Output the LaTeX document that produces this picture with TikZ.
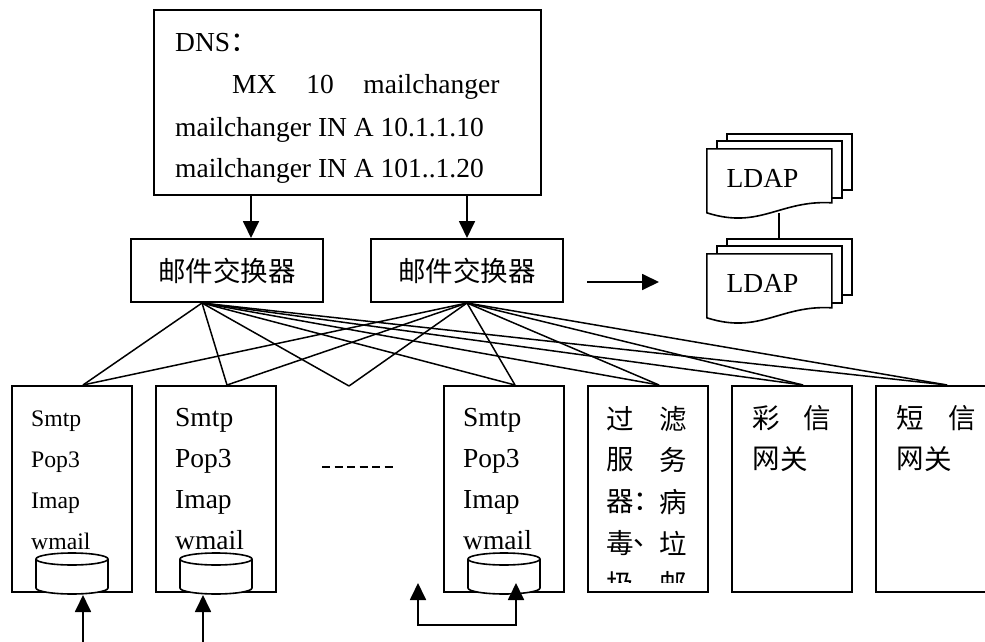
\documentclass[tikz,border=0pt]{standalone}
\usepackage{fontspec}
\setmainfont{Liberation Serif}
\newfontfamily\cjk{Noto Sans CJK SC}
\usetikzlibrary{arrows.meta}

% stack of LDAP pages, drawn from the front page's north west corner
\newcommand{\ldapstack}[1]{%
  \begin{scope}[shift={(#1.north west)}, line width=1.6pt]
    \draw[fill=white] (0,0) -- (125,0) -- (125,54) .. controls (73,51) and (53,81) .. (0,64) -- cycle;
    \draw (10,0) -- (10,-8) -- (135,-8) -- (135,49) -- (125,49);
    \draw (20,-8) -- (20,-15) -- (145,-15) -- (145,41) -- (135,41);
  \end{scope}}

% mail store cylinder, #1 is the centre of its top
\newcommand{\mailstore}[1]{%
  \begin{scope}[shift={(#1)}, line width=1.6pt]
    \draw[fill=white] (-36,0) -- (-36,29) arc[start angle=180, end angle=360, x radius=36pt, y radius=6pt]
      -- (36,0) arc[start angle=0, end angle=180, x radius=36pt, y radius=6pt] -- cycle;
    \draw (-36,0) arc[start angle=180, end angle=360, x radius=36pt, y radius=6pt];
  \end{scope}}

\begin{document}
\begin{tikzpicture}[x=1pt, y=-1pt,
    box/.style={draw, line width=2pt, inner sep=0pt},
    link/.style={line width=1.5pt},
    arr/.style={line width=1.8pt, -{Triangle[length=17pt,width=16pt]}},
    txt/.style={font=\fontsize{27.5}{33}\selectfont, inner sep=0pt, anchor=base west},
    smalltxt/.style={font=\fontsize{23.7}{28}\selectfont, inner sep=0pt, anchor=base west},
    cn/.style={font=\cjk\fontsize{27.5}{33}\selectfont, inner sep=0pt}]

    \useasboundingbox (0,0) rectangle (985,642);

    % DNS record
    \node[box, minimum width=387pt, minimum height=185pt] (dns) at (347.5,102.5) {};
    \node[txt] (dns1) at (175,52) {DNS{\cjk ：}};
    \node[txt] (dns2) at (232,93) {MX\hspace{30pt}10\hspace{29.5pt}mailchanger};
    \node[txt] (dns3) at (175,136) {mailchanger IN A 10.1.1.10};
    \node[txt] (dns4) at (175,177) {mailchanger IN A 101..1.20};

    % Mail exchangers
    \node[box, cn, minimum width=192pt, minimum height=63pt] (sw1) at (227,270.5) {邮件交换器};
    \node[box, cn, minimum width=192pt, minimum height=63pt] (sw2) at (467,270.5) {邮件交换器};
    \coordinate (d1) at ([xshift=24pt]sw1.north);
    \draw[arr] (d1 |- dns.south) -- (d1);
    \draw[arr] (sw2.north |- dns.south) -- (sw2.north);

    % LDAP
    \node[minimum width=125pt, minimum height=64pt, inner sep=0pt] (ldapA) at (769.5,181) {};
    \node[minimum width=125pt, minimum height=64pt, inner sep=0pt] (ldapB) at (769.5,286) {};
    \ldapstack{ldapA}
    \ldapstack{ldapB}
    \node[txt, anchor=center] (ldapAt) at ([xshift=-7pt,yshift=3pt]ldapA.center) {LDAP};
    \node[txt, anchor=center] (ldapBt) at ([xshift=-7pt,yshift=3pt]ldapB.center) {LDAP};
    \coordinate (lk1) at ([xshift=9.5pt]ldapA.south);
    \coordinate (lk2) at ([xshift=9.5pt,yshift=15pt]ldapB.north);
    \draw[link] (lk1) -- (lk2);
    \coordinate (la1) at (587,282);
    \coordinate (la2) at (659,282);
    \draw[arr] (la1) -- (la2);

    % Servers
    \foreach \n/\x in {b1/72,b2/216,b3/504,b4/648,b5/792,b6/936} {
        \node[box, minimum width=120pt, minimum height=206pt] (\n) at (\x,489) {};
        \coordinate (\n-top) at ([xshift=11pt]\n.north);
    }
    \coordinate (v) at (349,386);
    \coordinate (sw1o) at ([xshift=-25pt]sw1.south);
    \foreach \s in {sw1o,sw2.south}
        \foreach \t in {b1-top,b2-top,v,b3-top,b4-top,b5-top,b6-top}
            \draw[link] (\s) -- (\t);

    \foreach \n/\f in {b1/smalltxt,b2/txt,b3/txt}
        \foreach \w [count=\i] in {Smtp,Pop3,Imap,wmail}
            \node[\f] (\n-\i) at ([xshift=20pt,yshift={-41pt*\i}]\n.north west) {\w};

    \foreach \n in {b1,b2,b3} {
        \coordinate (\n-db) at ([yshift=34pt]\n.south);
        \mailstore{\n-db}
    }

    \draw[line width=2.2pt, dash pattern=on 8pt off 4.5pt] (322,467) -- (397,467);

    % Filter, MMS and SMS gateways
    \begin{scope}
        \clip (b4.north west) rectangle ([yshift=11pt]b4.south east);
        \foreach \c/\x/\y [count=\i] in {过/620/419,滤/673/419,服/620/460,务/673/460,器/620/502,：/647/502,病/673/502,毒/620/543,、/647/543,垃/673/543,圾/620/584,邮/673/584}
            \node[cn] (f-\i) at (\x,\y) {\c};
    \end{scope}
    \foreach \c/\x/\y [count=\i] in {彩/766/418,信/817/418,网/766/459,关/794/459}
        \node[cn] (m-\i) at (\x,\y) {\c};
    \foreach \c/\x/\y [count=\i] in {短/910/418,信/962/418,网/910/459,关/938/459}
        \node[cn] (s-\i) at (\x,\y) {\c};

    % Incoming arrows
    \coordinate (in1) at (83,642);
    \coordinate (in1t) at (83,595);
    \coordinate (in2) at (203,642);
    \coordinate (in2t) at (203,595);
    \draw[arr] (in1) -- (in1t);
    \draw[arr] (in2) -- (in2t);
    \coordinate (lpA) at (418,583);
    \coordinate (lpB) at (516,583);
    \draw[line width=1.8pt, {Triangle[length=17pt,width=16pt]}-{Triangle[length=17pt,width=16pt]}] (lpA) -- ++(0,42) -| (lpB);
\end{tikzpicture}
\end{document}
